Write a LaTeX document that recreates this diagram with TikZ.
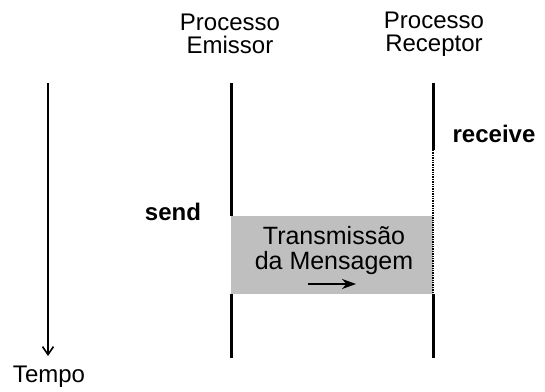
\documentclass[tikz,border=0pt]{standalone}
\usepackage{fontspec}
\setmainfont{Liberation Sans}
\usetikzlibrary{arrows.meta}

\begin{document}
\begin{tikzpicture}[
    x=0.5pt, y=0.5pt,
    >={Straight Barb[length=4pt,width=5.5pt]},
    font=\fontsize{12}{11.5}\selectfont,
    vida/.style={line width=1.5pt},
    espera/.style={line width=0.6pt, dash pattern=on 0.7pt off 0.5pt},
    evento/.style={font=\fontsize{12}{11.5}\selectfont\bfseries},
    titulo/.style={align=center, inner sep=0pt}
]
\useasboundingbox (0,0) rectangle (545,391);

% eixo do tempo
\coordinate (t0) at (48,308);
\coordinate (t1) at (48,35);
\draw[->, line width=0.8pt] (t0) -- (t1);
\node (tempo) at (49,14) {Tempo};

% titulos dos processos
\node[titulo] (emissor) at (230,357) {Processo\\Emissor};
\node[titulo] (receptor) at (434,357) {Processo\\Receptor};

% pontos das linhas de vida
\coordinate (e0) at (231,308);
\coordinate (e1) at (231,175);
\coordinate (e2) at (231,97);
\coordinate (e3) at (231,33);
\coordinate (r0) at (433,308);
\coordinate (r1) at (433,241);
\coordinate (r2) at (433,97);
\coordinate (r3) at (433,33);

% mensagem em transito
\fill[black!25] (e1) rectangle (r2);
\node[align=center, inner sep=0pt, font=\fontsize{12.5}{12.5}\selectfont] (msg) at (334,140) {Transmiss\~ao\\da Mensagem};
\coordinate (m0) at (308,107);
\coordinate (m1) at (356,107);
\draw[-{Stealth[length=7pt,width=5pt]}, line width=1.4pt] (m0) -- (m1);

% linhas de vida
\draw[vida] (e0) -- (e1);
\draw[vida] (e2) -- (e3);
\draw[vida] (r0) -- (r1);
\draw[espera] (r1) -- (r2);
\draw[vida] (r2) -- (r3);

% eventos
\node[evento] (send) at (173,179) {send};
\node[evento] (receive) at (494,257) {receive};
\end{tikzpicture}
\end{document}
